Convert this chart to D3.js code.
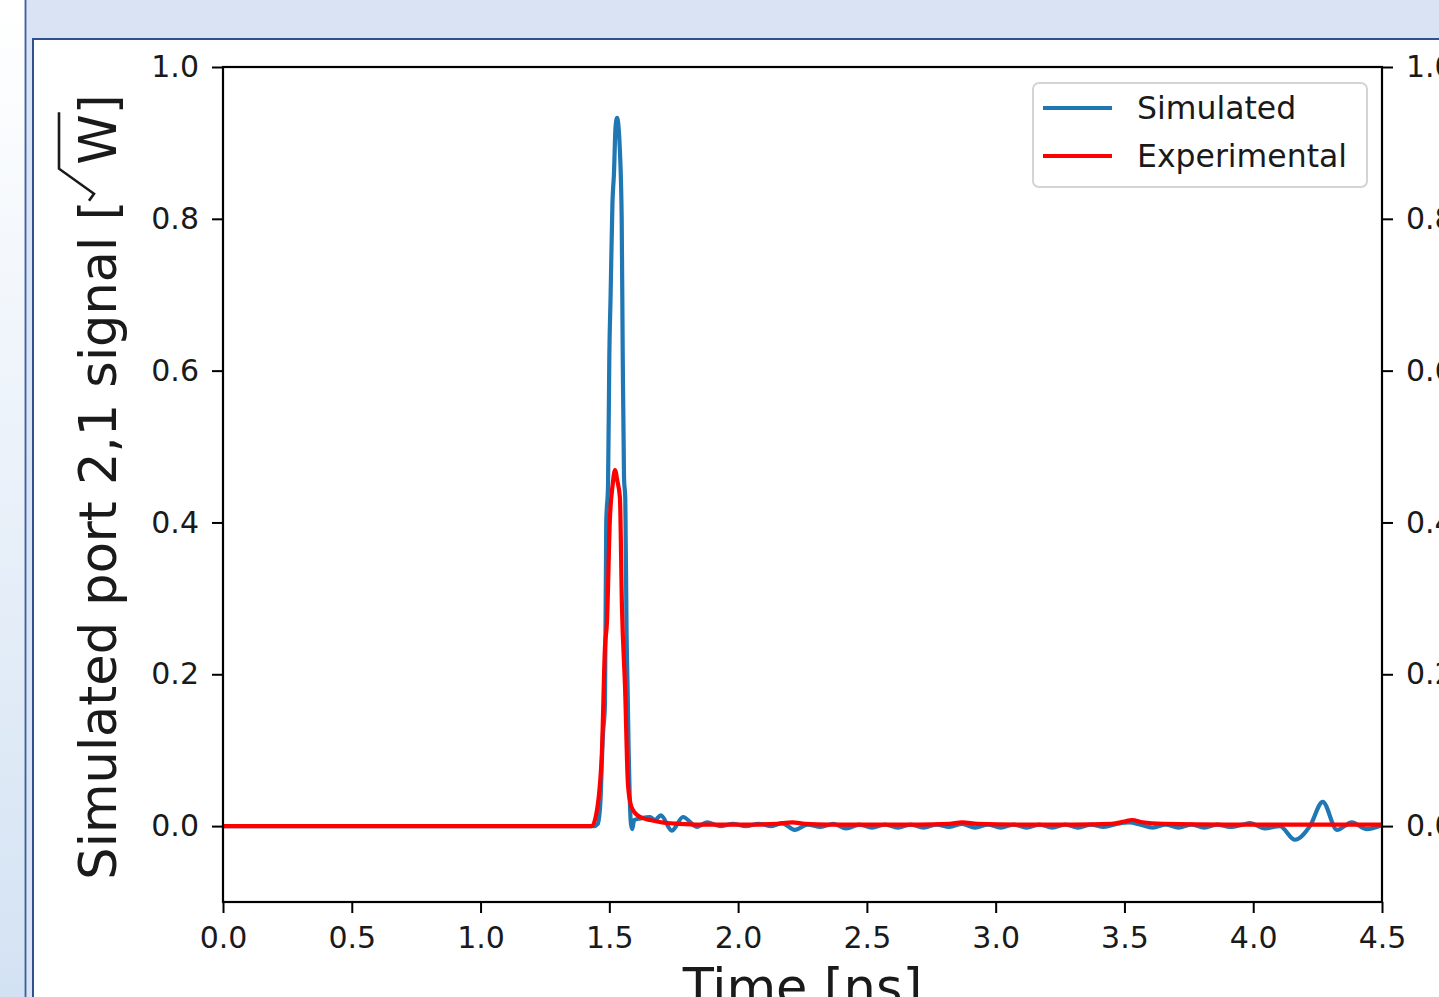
<!DOCTYPE html>
<html>
<head>
<meta charset="utf-8">
<script src="https://cdn.jsdelivr.net/npm/d3@7"></script>
<style>
    body { margin: 0; overflow: hidden; background: #dae3f3; }
    text { font-family: "DejaVu Sans", sans-serif; fill: #1a1a1a; }
</style>
</head>
<body>
<svg id="chart" width="1439" height="997"></svg>
<script>
// values
var seriesNames = ['Simulated', 'Experimental'];
var seriesColors = ['#1f77b4', '#ff0000'];
var xTicks = [0, 0.5, 1.0, 1.5, 2.0, 2.5, 3.0, 3.5, 4.0, 4.5];
var yTicks = [0, 0.2, 0.4, 0.6, 0.8, 1.0];
var xLabel = 'Time [ns]';
var yLabel = ['Simulated port 2,1 signal [', 'W', ']'];

// [time ns, signal]
var simulated = [
    [0, 0], [1.2, 0], [1.44, 0], [1.455, 0.003], [1.465, 0.03], [1.475, 0.12],
    [1.483, 0.16], [1.488, 0.40], [1.495, 0.45], [1.500, 0.62], [1.505, 0.70],
    [1.512, 0.82], [1.518, 0.86], [1.524, 0.92], [1.530, 0.933], [1.536, 0.92],
    [1.541, 0.89], [1.548, 0.80], [1.552, 0.62], [1.557, 0.46], [1.562, 0.43],
    [1.567, 0.25], [1.571, 0.18], [1.575, 0.10], [1.579, 0.04], [1.584, 0.003],
    [1.589, -0.004], [1.596, 0.008], [1.619, 0.010], [1.658, 0.012], [1.677, 0.008],
    [1.700, 0.014], [1.743, -0.006], [1.786, 0.012], [1.840, -0.001], [1.879, 0.005],
    [1.93, 0.0], [1.98, 0.003], [2.03, 0.0], [2.08, 0.003], [2.13, 0.0], [2.17, 0.004],
    [2.22, -0.005], [2.27, 0.002], [2.32, -0.001], [2.37, 0.003], [2.42, -0.003],
    [2.47, 0.002], [2.52, -0.002], [2.57, 0.002], [2.62, -0.002], [2.67, 0.002],
    [2.72, -0.002], [2.77, 0.002], [2.82, -0.001], [2.87, 0.003], [2.92, -0.002],
    [2.97, 0.002], [3.02, -0.002], [3.07, 0.002], [3.12, -0.002], [3.17, 0.002],
    [3.22, -0.002], [3.27, 0.002], [3.32, -0.002], [3.37, 0.002], [3.42, -0.001],
    [3.47, 0.003], [3.52, 0.005], [3.56, 0.002], [3.61, -0.002], [3.66, 0.002],
    [3.71, -0.002], [3.76, 0.002], [3.81, -0.002], [3.86, 0.002], [3.91, -0.001],
    [3.96, 0.002], [3.987, 0.004], [4.045, -0.003], [4.103, 0.0], [4.162, -0.018],
    [4.22, 0.0], [4.27, 0.032], [4.325, -0.005], [4.383, 0.005], [4.441, -0.004],
    [4.5, 0.001]
];

var experimental = [
    [0, 0], [1.40, 0], [1.432, 0.0], [1.45, 0.017], [1.471, 0.096], [1.483, 0.236],
    [1.491, 0.27], [1.502, 0.403], [1.513, 0.45], [1.522, 0.469], [1.531, 0.455],
    [1.541, 0.433], [1.549, 0.289], [1.561, 0.183], [1.572, 0.057], [1.582, 0.03],
    [1.592, 0.021], [1.61, 0.014], [1.63, 0.0105], [1.658, 0.008], [1.70, 0.005],
    [1.77, 0.003], [1.85, 0.002], [1.95, 0.002], [2.05, 0.002], [2.15, 0.003],
    [2.21, 0.005], [2.26, 0.003], [2.35, 0.002], [2.5, 0.002], [2.7, 0.002],
    [2.82, 0.003], [2.87, 0.005], [2.93, 0.003], [3.1, 0.002], [3.3, 0.002],
    [3.45, 0.003], [3.50, 0.006], [3.53, 0.008], [3.57, 0.005], [3.65, 0.003],
    [3.9, 0.002], [4.2, 0.002], [4.5, 0.002]
];

var W = 1439, H = 997;
var svg = d3.select('#chart');

// slide bits around the figure
var defs = svg.append('defs');
var grad = defs.append('linearGradient')
    .attr('id', 'leftGrad')
    .attr('x1', 0).attr('y1', 0).attr('x2', 0).attr('y2', 1);
grad.append('stop').attr('offset', '0%').attr('stop-color', '#ffffff');
grad.append('stop').attr('offset', '100%').attr('stop-color', '#d3e2f3');

svg.append('rect').attr('width', W).attr('height', H).attr('fill', '#dae3f3');
svg.append('rect').attr('width', 25).attr('height', H).attr('fill', 'url(#leftGrad)');
svg.append('line')
    .attr('x1', 25.5).attr('x2', 25.5).attr('y1', 0).attr('y2', H)
    .attr('stroke', '#3b5f9e').attr('stroke-width', 1.8);
svg.append('rect')
    .attr('x', 34).attr('y', 40).attr('width', W - 34).attr('height', H - 40)
    .attr('fill', '#ffffff');
svg.append('path')
    .attr('d', 'M33,' + H + 'V39H' + W)
    .attr('fill', 'none').attr('stroke', '#2f528f').attr('stroke-width', 2);

// plot area (window.top is read-only, so other names)
var pLeft = 223, pRight = 1382, pTop = 67, pBottom = 902;
var x = d3.scaleLinear().domain([0, 4.5]).range([pLeft, pRight]);
var y = d3.scaleLinear().domain([-0.1, 1.0]).range([pBottom, pTop]);

defs.append('clipPath').attr('id', 'plotClip')
    .append('rect')
    .attr('x', pLeft).attr('y', pTop)
    .attr('width', pRight - pLeft).attr('height', pBottom - pTop);

var line = d3.line()
    .x(function(d) { return x(d[0]); })
    .y(function(d) { return y(d[1]); })
    .curve(d3.curveMonotoneX);

var lines = svg.append('g').attr('clip-path', 'url(#plotClip)');
[simulated, experimental].forEach(function(s, i) {
    lines.append('path')
        .datum(s)
        .attr('d', line)
        .attr('fill', 'none')
        .attr('stroke', seriesColors[i])
        .attr('stroke-width', 4.2)
        .attr('stroke-linejoin', 'round')
        .attr('stroke-linecap', 'square');
});

// axes
var fmt = d3.format('.1f');
function styleAxis(g) {
    g.select('.domain').remove();
    g.selectAll('.tick line').attr('stroke', '#000').attr('stroke-width', 2);
    g.selectAll('.tick text').style('font-size', '30px').attr('fill', '#1a1a1a');
}

svg.append('g')
    .attr('transform', 'translate(0,' + pBottom + ')')
    .call(d3.axisBottom(x).tickValues(xTicks).tickFormat(fmt).tickSize(11).tickPadding(14))
    .call(styleAxis);

svg.append('g')
    .attr('transform', 'translate(' + pLeft + ',0)')
    .call(d3.axisLeft(y).tickValues(yTicks).tickFormat(fmt).tickSize(11).tickPadding(13))
    .call(styleAxis);

svg.append('g')
    .attr('transform', 'translate(' + pRight + ',0)')
    .call(d3.axisRight(y).tickValues(yTicks).tickFormat(fmt).tickSize(11).tickPadding(13))
    .call(styleAxis);

// frame (spines)
svg.append('rect')
    .attr('x', pLeft).attr('y', pTop)
    .attr('width', pRight - pLeft).attr('height', pBottom - pTop)
    .attr('fill', 'none').attr('stroke', '#000').attr('stroke-width', 2.2);

// axis labels
svg.append('text')
    .attr('x', (pLeft + pRight) / 2).attr('y', 1005)
    .attr('text-anchor', 'middle')
    .style('font-size', '51px')
    .text(xLabel);

var yl = svg.append('g').attr('transform', 'translate(116,487) rotate(-90)');
var ylt = yl.append('text').attr('text-anchor', 'middle').style('font-size', '51px');
ylt.append('tspan').text(yLabel[0]);
ylt.append('tspan').attr('dx', 36).text(yLabel[1]);
ylt.append('tspan').text(yLabel[2]);

// sqrt sign drawn around the W
var node = ylt.node();
var n = node.getNumberOfChars();
var ew = node.getExtentOfChar(n - 2);
var wl = ew.x, wr = ew.x + ew.width;
yl.append('path')
    .attr('d', 'M' + (wl - 36) + ',-27L' + (wl - 29) + ',-22L' + (wl - 4) + ',-57L' + (wr + 2) + ',-57')
    .attr('fill', 'none').attr('stroke', '#1a1a1a').attr('stroke-width', 2.6);

// legend
var legend = svg.append('g');
legend.append('rect')
    .attr('x', 1033).attr('y', 83).attr('width', 334).attr('height', 104).attr('rx', 6)
    .attr('fill', '#fff').attr('fill-opacity', 0.8)
    .attr('stroke', '#d4d4d4').attr('stroke-width', 2);

var items = legend.selectAll('g.item')
    .data(seriesNames)
    .enter()
    .append('g')
    .classed('item', true)
    .attr('transform', function(d, i) { return 'translate(0,' + (108 + i * 48) + ')'; });

items.append('line')
    .attr('x1', 1043).attr('x2', 1112)
    .attr('stroke', function(d, i) { return seriesColors[i]; })
    .attr('stroke-width', 4.2);

items.append('text')
    .attr('x', 1137).attr('y', 10.5)
    .style('font-size', '31.5px')
    .text(function(d) { return d; });
</script>
</body>
</html>
